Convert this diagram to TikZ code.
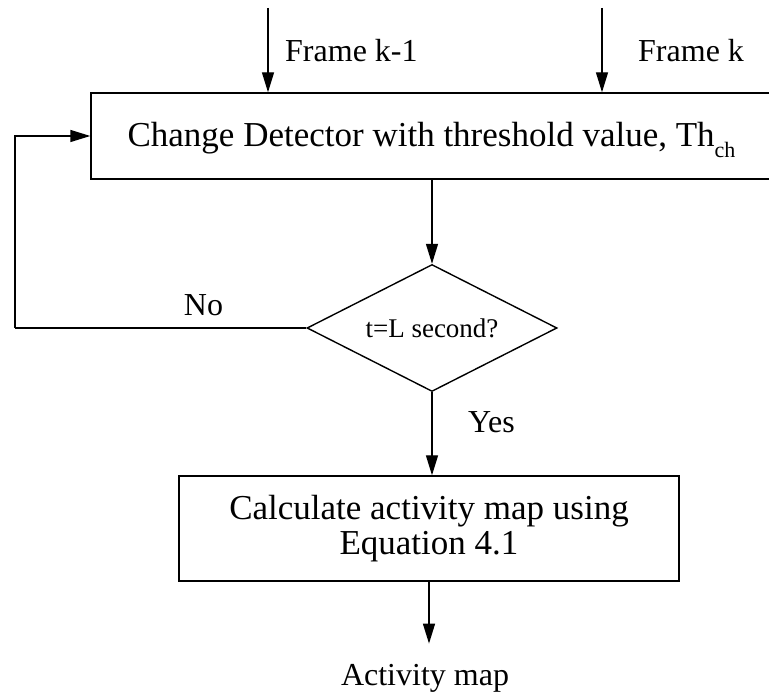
\documentclass[tikz,border=0pt]{standalone}
\usepackage{fontspec}
\setmainfont{Liberation Serif}
\usetikzlibrary{arrows.meta,shapes.geometric}

\tikzset{
  flow/.style={line width=1.4pt, -{Triangle[length=20pt,width=12pt]}},
  edge/.style={line width=1.4pt},
  procbox/.style={draw, line width=1.4pt, rectangle, inner sep=0pt, align=center},
  decision/.style={draw, line width=1.4pt, diamond, aspect=2, inner sep=0pt,
                   minimum width=250pt, minimum height=127pt,
                   font=\fontsize{27}{27}\selectfont},
  lbl/.style={inner sep=0pt, font=\fontsize{32}{32}\selectfont},
}

\begin{document}
\begin{tikzpicture}[x=1pt, y=1pt]
  \useasboundingbox (0,0) rectangle (769,693);
  \clip (0,0) rectangle (769,693);

  % change detector (its right side runs past the page edge)
  \node[procbox, minimum width=681pt, minimum height=86pt,
        text height=23pt, text depth=2pt,
        font=\fontsize{35}{35}\selectfont] (det) at (431.5,557)
    {Change Detector with threshold value, Th\raisebox{-11pt}{\fontsize{22}{22}\selectfont ch}};

  % the two input frames
  \coordinate (f1) at (268,685);
  \coordinate (f2) at (602,685);
  \draw[flow] (f1) -- (f1 |- det.north);
  \draw[flow] (f2) -- (f2 |- det.north);
  \node[lbl, anchor=base west] (lf1) at (285,631) {Frame k-1};
  \node[lbl, anchor=base west] (lf2) at (638,631) {Frame k};

  % decision
  \node[decision] (dia) at (432,365) {t=L second?};
  \draw[flow] (det.south -| dia.north) -- (dia.north);

  % loop back when time is not reached
  \coordinate (loop) at (15,365);
  \draw[edge] (dia.west) -- (loop);
  \draw[flow] (loop) |- (det.west);
  \node[lbl, anchor=base] (no) at (203.5,377) {No};

  % activity map computation
  \node[procbox, minimum width=500pt, minimum height=105pt,
        font=\fontsize{35}{35}\selectfont] (calc) at (429,164.5)
    {Calculate activity map using\\Equation 4.1};
  \draw[flow] (dia.south) -- (dia.south |- calc.north);
  \node[lbl, anchor=base west] (yes) at (468,260) {Yes};

  % output
  \node[lbl, anchor=base] (out) at (425,7) {Activity map};
  \draw[flow] (calc.south) -- ([yshift=21pt]calc.south |- out.north);
\end{tikzpicture}
\end{document}
